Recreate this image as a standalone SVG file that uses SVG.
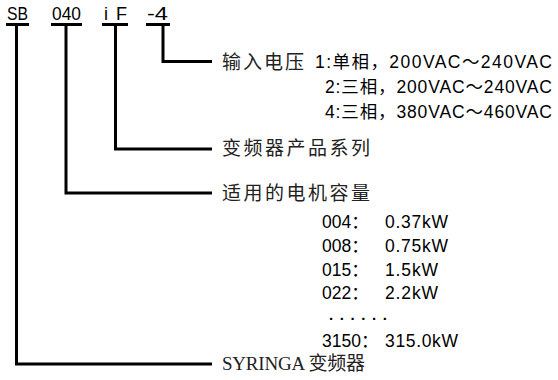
<svg xmlns="http://www.w3.org/2000/svg" width="558" height="380" viewBox="0 0 558 380">
<style>
.ln{fill:none;stroke:#000;stroke-width:3;stroke-linejoin:miter}
.code{font-family:"Liberation Sans","Noto Sans CJK SC",sans-serif;font-size:18px;fill:#000}
.lbl{font-family:"Noto Sans CJK SC",sans-serif;font-size:19px;fill:#222}
.val{font-family:"Liberation Sans","Noto Sans CJK SC",sans-serif;font-size:17.5px;fill:#000}
.dots{font-family:"Liberation Sans",sans-serif;font-size:15px;font-weight:bold;fill:#000}
.ser{font-family:"Liberation Serif","Noto Sans CJK SC",serif;font-size:19px;fill:#222}
</style>
<rect width="558" height="380" fill="#fff"/>
<g id="connectors">
<path class="ln" d="M6 24.5 H29 M16.5 24.5 V364 H212"/>
<path class="ln" d="M51 24.5 H82 M66 24.5 V193 H212"/>
<path class="ln" d="M102 24.5 H128 M115.5 24.5 V149 H212"/>
<path class="ln" d="M146 24.5 H170 M163 24.5 V61.5 H212"/>
</g>
<g id="code">
<text class="code" x="7" y="20" textLength="21" lengthAdjust="spacingAndGlyphs">SB</text>
<text class="code" x="52" y="20" textLength="29" lengthAdjust="spacingAndGlyphs">040</text>
<text class="code" x="104" y="20" textLength="23" lengthAdjust="spacing">iF</text>
<text class="code" x="147" y="20" textLength="21" lengthAdjust="spacingAndGlyphs">-4</text>
</g>
<g id="voltage">
<text class="lbl" x="222" y="69" textLength="82" lengthAdjust="spacing">输入电压</text>
<text class="val" x="315" y="68" textLength="237" lengthAdjust="spacing">1:单相，200VAC～240VAC</text>
<text class="val" x="325" y="93" textLength="227" lengthAdjust="spacing">2:三相，200VAC～240VAC</text>
<text class="val" x="325" y="118" textLength="227" lengthAdjust="spacing">4:三相，380VAC～460VAC</text>
</g>
<g id="series">
<text class="lbl" x="222" y="155" textLength="148" lengthAdjust="spacing">变频器产品系列</text>
</g>
<g id="capacity">
<text class="lbl" x="222" y="200" textLength="148" lengthAdjust="spacing">适用的电机容量</text>
<text class="val" x="322" y="228">004：</text>
<text class="val" x="385" y="228" textLength="63" lengthAdjust="spacing">0.37kW</text>
<text class="val" x="322" y="252">008：</text>
<text class="val" x="385" y="252" textLength="63" lengthAdjust="spacing">0.75kW</text>
<text class="val" x="322" y="276">015：</text>
<text class="val" x="385" y="276" textLength="53" lengthAdjust="spacing">1.5kW</text>
<text class="val" x="322" y="299">022：</text>
<text class="val" x="385" y="299" textLength="53" lengthAdjust="spacing">2.2kW</text>
<text class="dots" x="329" y="320" textLength="58" lengthAdjust="spacing">......</text>
<text class="val" x="322" y="347">3150：</text>
<text class="val" x="385" y="347" textLength="73" lengthAdjust="spacing">315.0kW</text>
</g>
<g id="brand">
<text class="ser" x="222" y="370" textLength="143" lengthAdjust="spacing">SYRINGA 变频器</text>
</g>
</svg>
